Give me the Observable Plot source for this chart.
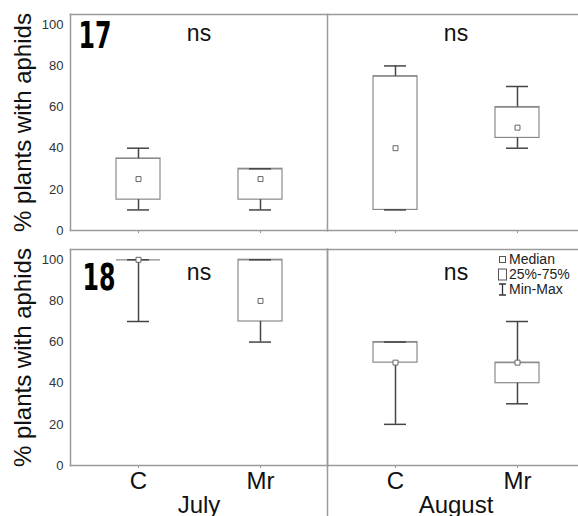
<!DOCTYPE html>
<html><head><meta charset="utf-8">
<script src="https://cdn.jsdelivr.net/npm/d3@7"></script>
<script src="https://cdn.jsdelivr.net/npm/@observablehq/plot@0.6"></script>
<style>
body{margin:0;background:#fff;}
#wrap{position:relative;width:578px;height:516px;overflow:hidden;background:#fff;}
#legend{position:absolute;left:497px;top:252px;font-family:'Liberation Sans',Arial,sans-serif;font-size:14px;color:#222;line-height:15px;}
#legend .row{display:flex;align-items:center;height:15px;}
#legend svg{width:11px;height:15px;margin-right:1px;flex:none;}
</style></head><body>
<div id="wrap"><div id="chart"></div><div id="legend"></div></div>
<script>
// ---- data ----
const years = ["17","17","17","17","18","18","18","18"];
const months = ["July","July","August","August","July","July","August","August"];
const treatments = ["C","Mr","C","Mr","C","Mr","C","Mr"];
const minValues = [10,10,10,40,70,60,20,30];
const q1Values = [15,15,10,45,100,70,50,40];
const medianValues = [25,25,40,50,100,80,50,50];
const q3Values = [35,30,75,60,100,100,60,50];
const maxValues = [40,30,80,70,100,100,60,70];

const monthOrder = ["July","August"];
const yearOrder = ["17","18"];
const treatmentOrder = ["C","Mr"];
const yDomain = [0, 105];
const yTicks = [0,20,40,60,80,100];
const yLabel = "% plants with aphids";

const sigYears = ["17","17","18","18"];
const sigMonths = ["July","August","July","August"];
const sigLabels = ["ns","ns","ns","ns"];

const legendLabels = ["Median","25%-75%","Min-Max"];

// ---- build tables ----
const data = years.map((y,i)=>({year:y, month:months[i], t:treatments[i],
  min:minValues[i], q1:q1Values[i], median:medianValues[i], q3:q3Values[i], max:maxValues[i]}));
const sig = sigYears.map((y,i)=>({year:y, month:sigMonths[i], label:sigLabels[i]}));
const rowLabels = yearOrder.map(y=>({year:y}));

const frameStroke = "#9a9a9a";
const boxStroke = "#8a8a8a";
const whiskerStroke = "#454545";
const F = {fx:"month", fy:"year"};
const bigFont = "'DejaVu Sans', sans-serif";

const chart = Plot.plot({
  width: 578, height: 516,
  marginLeft: 70, marginRight: -6, marginTop: 13, marginBottom: 51,
  style: {fontFamily: "'Liberation Sans', Arial, sans-serif", background: "white", color: "#222"},
  fx: {domain: monthOrder, paddingInner: 0, paddingOuter: 0},
  fy: {domain: yearOrder, paddingInner: 0.081, paddingOuter: 0, axis: null},
  x: {domain: treatmentOrder, type: "band", paddingInner: 0.64, paddingOuter: 0.365},
  y: {domain: yDomain},
  marks: [
    Plot.frame({anchor:"top", stroke:frameStroke, strokeWidth:1.5}),
    Plot.frame({anchor:"left", stroke:frameStroke, strokeWidth:1.5}),
    Plot.frame({anchor:"bottom", stroke:frameStroke, strokeWidth:1.5}),
    Plot.frame({anchor:"left", fx: ()=>"August", fy: ()=>"18", insetBottom: -60, stroke:frameStroke, strokeWidth:1.5}),
    Plot.axisY({ticks: yTicks, tickSize: 0, tickPadding: 7, fontSize: 13, label: null, color: "#333"}),
    Plot.axisX({tickSize: 3, tickFormat: () => "", facetAnchor: null, stroke: frameStroke, label: null}),
    Plot.axisX({tickSize: 0, tickPadding: 6, fontSize: 24, label: null, fill: "#111"}),
    Plot.axisFx({anchor: "bottom", tickSize: 0, tickPadding: 30, fontSize: 24, label: null, fill: "#111"}),
    // boxes
    Plot.barY(data, {...F, x:"t", y1:"q1", y2:"q3", fill:"white", stroke:boxStroke, strokeWidth:1.2}),
    Plot.tickY(data, {...F, x:"t", y:"q3", stroke:boxStroke, strokeWidth:1.2}),
    // whiskers
    Plot.ruleX(data, {...F, x:"t", y1:"q3", y2:"max", stroke:whiskerStroke, strokeWidth:1.5}),
    Plot.ruleX(data, {...F, x:"t", y1:"min", y2:"q1", stroke:whiskerStroke, strokeWidth:1.5}),
    Plot.tickY(data, {...F, x:"t", y:"max", insetLeft:11, insetRight:11, stroke:whiskerStroke, strokeWidth:1.5}),
    Plot.tickY(data, {...F, x:"t", y:"min", insetLeft:11, insetRight:11, stroke:whiskerStroke, strokeWidth:1.5}),
    // medians
    Plot.dot(data, {...F, x:"t", y:"median", symbol:"square", r:2.8, stroke:"#666", fill:"white", strokeWidth:1}),
    // significance labels
    Plot.text(sig.filter(d=>d.year==="17"), {...F, text:"label", frameAnchor:"top", lineAnchor:"middle", dy:19, fontSize:23, fill:"#111"}),
    Plot.text(sig.filter(d=>d.year==="18"), {...F, text:"label", frameAnchor:"top", lineAnchor:"middle", dy:23, fontSize:23, fill:"#111"}),
    // row labels
    Plot.text(rowLabels.filter(d=>d.year==="17"), {fx: ()=>"July", fy:"year", text:"year", className:"rowlabel", frameAnchor:"top-left", textAnchor:"start", lineAnchor:"top", dx:8, dy:7, fontSize:38, fontWeight:"bold", fontFamily:bigFont, fill:"#000"}),
    Plot.text(rowLabels.filter(d=>d.year==="18"), {fx: ()=>"July", fy:"year", text:"year", className:"rowlabel", frameAnchor:"top-left", textAnchor:"start", lineAnchor:"top", dx:12, dy:14, fontSize:38, fontWeight:"bold", fontFamily:bigFont, fill:"#000"}),
    // y label, centred on each row
    Plot.text(rowLabels, {fx: ()=>"July", fy:"year", text: () => yLabel, frameAnchor:"left", textAnchor:"middle", rotate:-90, dx:-47, fontSize:24, fill:"#111"})
  ]
});
// condense the big panel numbers
d3.select(chart).selectAll("g.rowlabel text").attr("textLength", 33).attr("lengthAdjust", "spacingAndGlyphs");
document.getElementById("chart").appendChild(chart);

// legend
const icons = [
  '<svg viewBox="0 0 11 15"><rect x="2.5" y="4.5" width="6" height="6" fill="white" stroke="#555" stroke-width="1"/></svg>',
  '<svg viewBox="0 0 11 15"><rect x="1.5" y="2" width="8" height="11" fill="white" stroke="#555" stroke-width="1"/></svg>',
  '<svg viewBox="0 0 11 15"><path d="M2,2H9M5.5,2V13M2,13H9" fill="none" stroke="#333" stroke-width="1.3"/></svg>'
];
const legend = document.getElementById("legend");
legendLabels.forEach((lab,i)=>{
  const row = document.createElement("div");
  row.className = "row";
  row.innerHTML = icons[i];
  const span = document.createElement("span");
  span.textContent = lab;
  row.appendChild(span);
  legend.appendChild(row);
});
</script>
</body></html>
